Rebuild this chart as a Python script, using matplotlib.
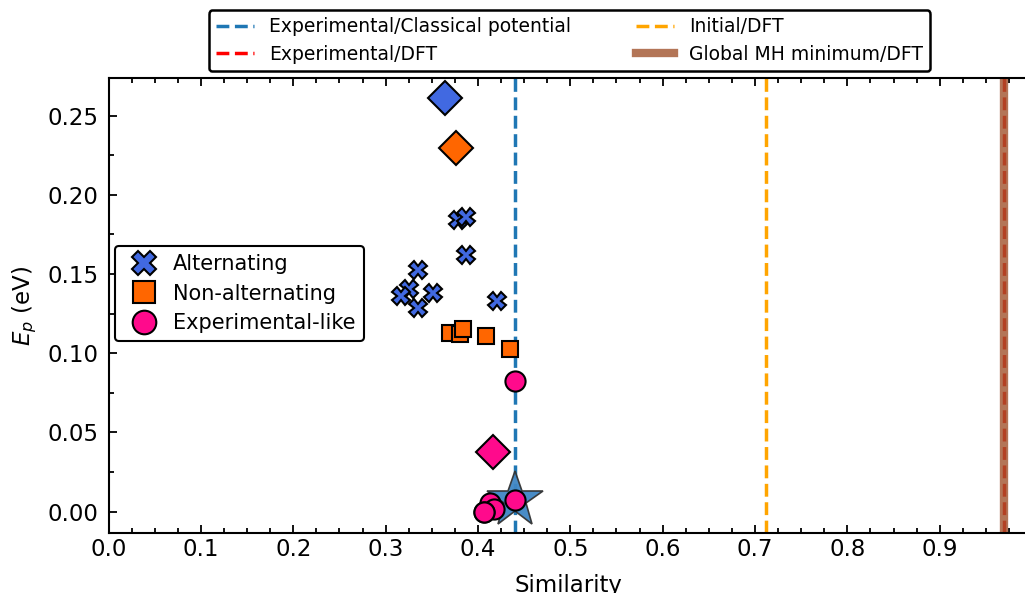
import matplotlib
matplotlib.use("Agg")
import matplotlib.pyplot as plt
from matplotlib.lines import Line2D
from matplotlib.ticker import MultipleLocator

# alternating structures
alt_x = [0.3787, 0.3873, 0.3873, 0.3354, 0.3256, 0.3170, 0.3354, 0.3516, 0.4209]
alt_y = [0.1840, 0.1860, 0.1621, 0.1526, 0.1406, 0.1362, 0.1286, 0.1381, 0.1330]

# non-alternating structures
nonalt_x = [0.3700, 0.3808, 0.3841, 0.4090, 0.4350]
nonalt_y = [0.1128, 0.1122, 0.1153, 0.1109, 0.1027]

# experimental-like structures
exp_x = [0.4404, 0.4404, 0.4133, 0.4177, 0.4060, 0.4060]
exp_y = [0.0825, 0.0074, 0.0055, 0.0017, 0.0000, 0.0000]

# cluster averages (diamonds)
avg_x = [0.3646, 0.3765, 0.4166]
avg_y = [0.2610, 0.2293, 0.0377]

# experimental structure
star_x = [0.4404]
star_y = [0.0073]

# reference similarities
sim_exp_classical = 0.4404
sim_exp_dft = 0.9694
sim_initial_dft = 0.712
sim_global_dft = 0.9694

c_alt = "#4169e1"
c_nonalt = "#ff6600"
c_exp = "#ff0a8c"

fig = plt.figure(figsize=(10.25, 5.93), dpi=100)
ax = fig.add_axes([0.1059, 0.1017, 0.8965, 0.7664])

l1 = ax.axvline(sim_exp_classical, color="tab:blue", ls="--", lw=2.5,
                label="Experimental/Classical potential")
l2 = ax.axvline(sim_exp_dft, color="red", ls="--", lw=2.5,
                label="Experimental/DFT")
l3 = ax.axvline(sim_initial_dft, color="orange", ls="--", lw=2.5,
                label="Initial/DFT")
l4 = ax.axvline(sim_global_dft, color="sienna", ls="-", lw=6, alpha=0.8,
                label="Global MH minimum/DFT")

ax.plot(star_x, star_y, ls="none", marker="*", ms=42, mfc="#3f86c4",
        mec="#333333", mew=1.2, alpha=0.95, zorder=3)
ax.plot(alt_x, alt_y, ls="none", marker="X", ms=12.5, mfc=c_alt, mec="black",
        mew=1.5, zorder=4)
ax.plot(nonalt_x, nonalt_y, ls="none", marker="s", ms=11.5, mfc=c_nonalt,
        mec="black", mew=1.5, zorder=4)
ax.plot(exp_x, exp_y, ls="none", marker="o", ms=14.5, mfc=c_exp, mec="black",
        mew=1.5, zorder=4)
for x, y, c in zip(avg_x, avg_y, [c_alt, c_nonalt, c_exp]):
    ax.plot(x, y, ls="none", marker="D", ms=17.5, mfc=c, mec="black",
            mew=1.5, zorder=5)

ax.set_xlim(0, 0.995)
ax.set_ylim(-0.0133, 0.2736)
ax.xaxis.set_major_locator(MultipleLocator(0.1))
ax.xaxis.set_minor_locator(MultipleLocator(0.025))
ax.yaxis.set_major_locator(MultipleLocator(0.05))
ax.yaxis.set_minor_locator(MultipleLocator(0.025))
ax.tick_params(which="both", direction="in", top=True, right=False,
               labelsize=16.5, width=1.3)
ax.tick_params(which="major", length=6)
ax.tick_params(which="minor", length=3.5)
ax.tick_params(axis="y", which="major", pad=7)
for s in ax.spines.values():
    s.set_linewidth(1.5)

ax.set_xlabel("Similarity", fontsize=16.5, labelpad=10)
ax.set_ylabel("$E_p$ (eV)", fontsize=16.5, labelpad=6)

leg1 = ax.legend(handles=[l1, l2, l3, l4], ncol=2, loc="lower center",
                 bbox_to_anchor=(0.5016, 1.015), fontsize=13.5, frameon=True,
                 edgecolor="black", framealpha=1, columnspacing=3.5,
                 borderaxespad=0, labelspacing=0.45, borderpad=0.4)
leg1.get_frame().set_linewidth(1.8)
ax.add_artist(leg1)

h_alt = Line2D([], [], ls="none", marker="X", ms=17, mfc=c_alt, mec="black", mew=1.5)
h_nonalt = Line2D([], [], ls="none", marker="s", ms=16, mfc=c_nonalt, mec="black", mew=1.5)
h_exp = Line2D([], [], ls="none", marker="o", ms=17, mfc=c_exp, mec="black", mew=1.5)
leg2 = ax.legend([h_alt, h_nonalt, h_exp],
                 ["Alternating", "Non-alternating", "Experimental-like"],
                 loc="center left", bbox_to_anchor=(0.0, 0.526), fontsize=15,
                 edgecolor="black", framealpha=1, borderaxespad=0.3,
                 handletextpad=0.4, labelspacing=0.45, borderpad=0.4)
leg2.get_frame().set_linewidth(1.5)

fig.savefig("out.png", dpi=100)
